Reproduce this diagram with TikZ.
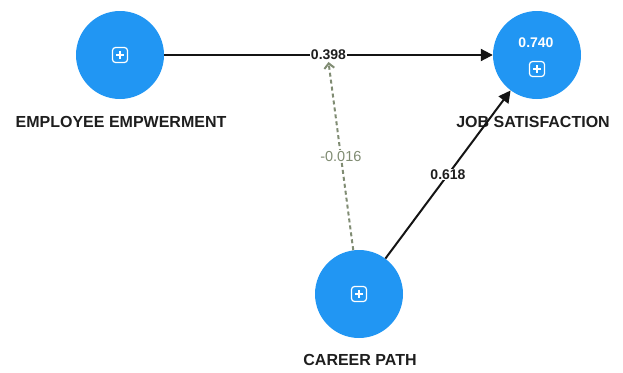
\documentclass[tikz,border=0pt]{standalone}
\usepackage{fontspec}
\setmainfont{Liberation Sans}
\usetikzlibrary{arrows.meta}
\definecolor{nodeblue}{RGB}{33,150,243}
\definecolor{modgray}{RGB}{128,140,115}
\definecolor{txtdark}{RGB}{30,30,30}
\newcommand\drawplusicon[1]{%
  \draw[icon,rounded corners=3pt] ([shift={(-7.5pt,-7.5pt)}]#1) rectangle ([shift={(7.5pt,7.5pt)}]#1);
  \draw[icon] ([xshift=-4pt]#1) -- ([xshift=4pt]#1) ([yshift=-4pt]#1) -- ([yshift=4pt]#1);}
\begin{document}
\begin{tikzpicture}[x=1pt,y=-1pt,
  latent/.style={circle,fill=nodeblue,minimum size=88pt,inner sep=0pt},
  lvname/.style={font=\fontsize{16}{19}\selectfont\bfseries,text=txtdark,inner sep=1pt},
  coef/.style={font=\fontsize{14}{16}\selectfont\bfseries,fill=white,inner sep=1pt,text=txtdark},
  modcoef/.style={font=\fontsize{14.5}{16}\selectfont,fill=white,inner sep=1pt,text=modgray},
  regpath/.style={draw=black!92,line width=2pt,-{Triangle[length=12pt,width=12pt]}},
  modpath/.style={draw=modgray,line width=2pt,dash pattern=on 4pt off 3pt,-{Straight Barb[length=5pt,width=10pt]}},
  icon/.style={draw=white,line width=1.2pt}]
\useasboundingbox (0,0) rectangle (623,372);

\node[latent] (ee) at (120,55) {};
\node[latent] (js) at (537,55) {};
\node[latent] (cp) at (359,294) {};

\coordinate (eeicon) at (120,55);
\coordinate (jsicon) at (537,69);
\coordinate (cpicon) at (359,294);
\drawplusicon{eeicon}
\drawplusicon{jsicon}
\drawplusicon{cpicon}
\node[font=\fontsize{14}{16}\selectfont\bfseries,text=white] (jsr2) at (536,43) {0.740};

\node[lvname] (eeL) at (121,122) {EMPLOYEE EMPWERMENT};
\node[lvname] (jsL) at (533,122) {JOB SATISFACTION};
\node[lvname] (cpL) at (360,360) {CAREER PATH};

\draw[regpath] (ee) -- (js) node[coef,pos=0.5] (c1) {0.398};
\draw[regpath] (cp) -- (js) node[coef,pos=0.5] (c2) {0.618};
\draw[modpath] (cp) -- (c1.south) node[modcoef,pos=0.5] (c3) {-0.016};
\end{tikzpicture}
\end{document}
